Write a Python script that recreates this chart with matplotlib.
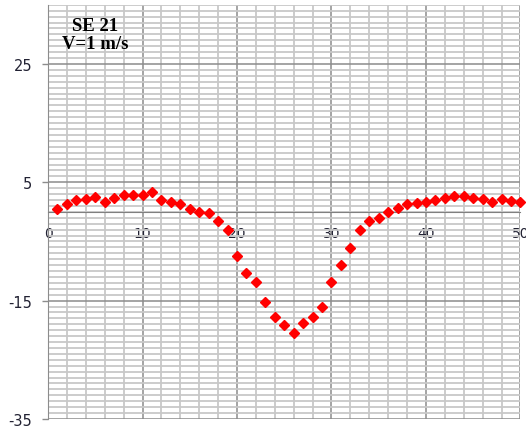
import numpy as np
import matplotlib
matplotlib.use('Agg')
import matplotlib.pyplot as plt

plt.rcParams['axes.unicode_minus'] = False

# point readings, x = 1..50
x = np.arange(1, 51)
y = [0.5, 1.3, 2.0, 2.1, 2.5, 1.6, 2.4, 2.8, 2.8, 2.8,
     3.3, 2.0, 1.6, 1.3, 0.5, 0.0, -0.2, -1.6, -3.0, -7.4,
     -10.3, -11.8, -15.2, -17.7, -19.2, -20.5, -18.8, -17.7, -16.1, -11.8,
     -8.9, -6.1, -3.0, -1.5, -1.1, -0.1, 0.7, 1.3, 1.5, 1.6,
     2.0, 2.3, 2.6, 2.7, 2.3, 2.1, 1.7, 2.1, 1.9, 1.7]

xticks = [0, 10, 20, 30, 40, 50]
yticks = [-35, -15, 5, 25]
label = "SE 21\nV=1 m/s"

fig = plt.figure(figsize=(5.26, 4.27), dpi=100)
ax = fig.add_axes([0.0913, 0.0164, 0.8982, 0.9701])

ax.set_xlim(0, 50)
ax.set_ylim(-35, 35)

ax.set_xticks(xticks)
ax.set_yticks(yticks)
ax.set_xticks(np.arange(0, 51, 2), minor=True)
ax.set_yticks(np.arange(-35, 36, 1), minor=True)

# grid after ticks so it sticks
ax.xaxis.grid(True, which='minor', color='#c8c8c8', lw=1.3)
ax.yaxis.grid(True, which='minor', color='#c8c8c8', lw=1.3)
ax.xaxis.grid(True, which='major', color='#8c8c8c', lw=1.1)
ax.yaxis.grid(True, which='major', color='#8c8c8c', lw=1.1)
ax.set_axisbelow(True)

ax.tick_params(which='minor', length=0)
ax.tick_params(axis='x', which='major', length=0, pad=10, labelsize=10, labelcolor='#222233')
ax.tick_params(axis='y', which='major', length=4.5, width=1, color='#8c8c8c', pad=7,
               labelsize=10.5, labelcolor='#222233')

ax.spines['bottom'].set_position(('data', 0))
ax.spines['bottom'].set_color('#808080')
ax.spines['left'].set_color('#8c8c8c')
ax.spines['top'].set_visible(False)
ax.spines['right'].set_visible(False)
for lab in ax.get_xticklabels():
    lab.set_clip_on(False)

ax.plot(x, y, 'D', color='#ff0000', ms=5.5, mec='#ff0000', clip_on=False, zorder=5)

ax.text(5.0, 30.0, label, ha='center', va='center', fontsize=13.5, fontweight='bold',
        family='Liberation Serif', linespacing=1.1)

plt.savefig('out.png', dpi=100)
